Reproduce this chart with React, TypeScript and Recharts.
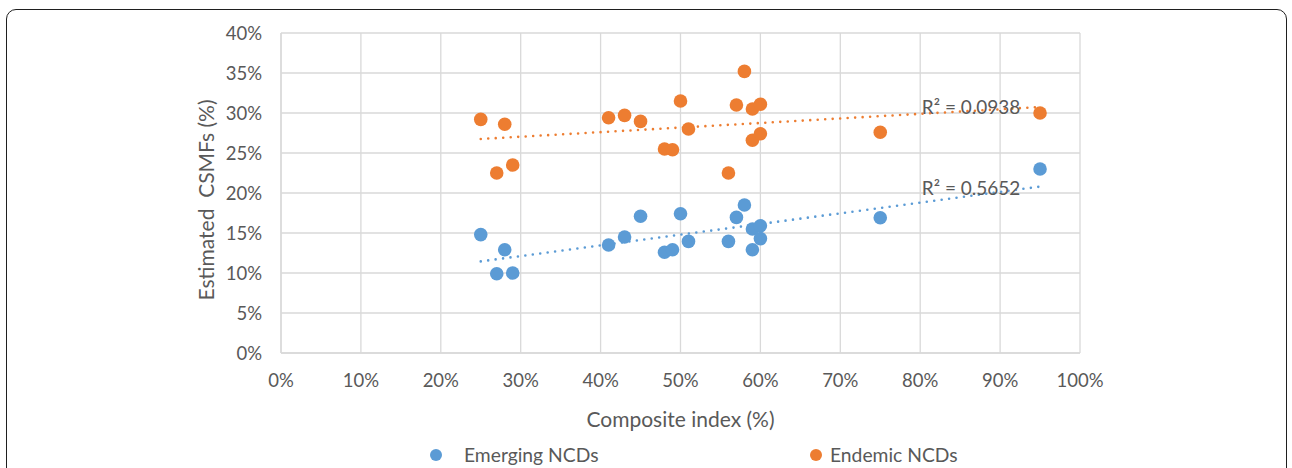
import {
  ScatterChart,
  Scatter,
  XAxis,
  YAxis,
  CartesianGrid,
  ReferenceLine,
  ReferenceDot,
} from "recharts";

// composite index (%) per country, same order in both series
const compositeIndex = [25, 27, 28, 29, 41, 43, 45, 48, 49, 50, 51, 56, 57, 58, 59, 59, 60, 60, 75, 95];
const emergingCsmf = [14.8, 9.9, 12.9, 10.0, 13.5, 14.5, 17.1, 12.6, 12.9, 17.4, 13.95, 13.95, 16.95, 18.5, 15.5, 12.9, 15.9, 14.3, 16.9, 23.0];
const endemicCsmf = [29.2, 22.5, 28.6, 23.5, 29.4, 29.7, 28.95, 25.5, 25.4, 31.5, 28.0, 22.5, 31.0, 35.2, 30.5, 26.6, 31.1, 27.4, 27.6, 30.0];

// trendline ends
const emergingTrend = [{ x: 25, y: 11.45 }, { x: 95, y: 20.8 }];
const endemicTrend = [{ x: 25, y: 26.75 }, { x: 95, y: 30.75 }];
const emergingR2 = "R² = 0.5652";
const endemicR2 = "R² = 0.0938";

const xTicks = [0, 10, 20, 30, 40, 50, 60, 70, 80, 90, 100];
const yTicks = [0, 5, 10, 15, 20, 25, 30, 35, 40];

const BLUE = "#5b9bd5";
const ORANGE = "#ed7d31";
const TEXT = "#595959";
const GRID = "#d9d9d9";
const FONT = "Lato, 'Open Sans', sans-serif";
const TICK_FS = 18.5;
const TITLE_FS = 21;
const LEGEND_FS = 19.3;
const R2_FS = 19;

const emerging = compositeIndex.map((x, i) => ({ x, y: emergingCsmf[i] }));
const endemic = compositeIndex.map((x, i) => ({ x, y: endemicCsmf[i] }));

const dot = (color: string) => (p: any) => <circle cx={p.cx} cy={p.cy} r={6.8} fill={color} />;

export default function App() {
  const tick = { fill: TEXT, fontSize: TICK_FS, fontFamily: FONT };
  const trendStyle = { strokeWidth: 2.6, strokeDasharray: "0 7.5", strokeLinecap: "round" as const };
  return (
    <div style={{ position: "absolute", left: 0, top: 0, width: 1292, height: 468, overflow: "hidden", background: "#fff", fontFamily: FONT }}>
      <div
        style={{
          position: "absolute",
          left: 6,
          top: 9,
          width: 1279,
          height: 520,
          border: "1.6px solid #1f1f1f",
          borderRadius: 10,
        }}
      />
      <ScatterChart width={1292} height={468} margin={{ top: 33, right: 212, bottom: 55, left: 201 }}>
        <CartesianGrid stroke={GRID} strokeWidth={1.3} />
        <XAxis
          type="number"
          dataKey="x"
          domain={[0, 100]}
          ticks={xTicks}
          tickFormatter={(v) => `${v}%`}
          tick={tick}
          tickLine={false}
          tickSize={6}
          tickMargin={15}
          axisLine={{ stroke: GRID, strokeWidth: 1.3 }}
          height={60}
          label={{
            content: ({ viewBox }: any) => (
              <text x={viewBox.x + viewBox.width / 2} y={viewBox.y + 74} textAnchor="middle" fill={TEXT} fontSize={TITLE_FS} fontFamily={FONT}>
                Composite index (%)
              </text>
            ),
          }}
        />
        <YAxis
          type="number"
          dataKey="y"
          domain={[0, 40]}
          ticks={yTicks}
          tickFormatter={(v) => `${v}%`}
          tick={tick}
          tickLine={false}
          tickSize={6}
          tickMargin={13}
          axisLine={{ stroke: GRID, strokeWidth: 1.3 }}
          width={80}
          label={{
            content: ({ viewBox }: any) => {
              const cx = viewBox.x + 4;
              const cy = viewBox.y + viewBox.height / 2 + 7;
              return (
                <text x={cx} y={cy} transform={`rotate(-90 ${cx} ${cy})`} textAnchor="middle" dominantBaseline="central" fill={TEXT} fontSize={TITLE_FS} fontFamily={FONT} style={{ whiteSpace: "pre" }}>
                  {"Estimated  CSMFs (%)"}
                </text>
              );
            },
          }}
        />
        <Scatter name="Emerging NCDs" data={emerging} fill={BLUE} shape={dot(BLUE)} isAnimationActive={false} />
        <Scatter name="Endemic NCDs" data={endemic} fill={ORANGE} shape={dot(ORANGE)} isAnimationActive={false} />
        <ReferenceLine segment={emergingTrend} stroke={BLUE} {...trendStyle} />
        <ReferenceLine segment={endemicTrend} stroke={ORANGE} {...trendStyle} />
        <ReferenceDot x={80.2} y={30.7} r={0} fill="none" stroke="none" label={{ value: endemicR2, position: "right", offset: 0, fill: TEXT, fontSize: R2_FS, fontFamily: FONT }} />
        <ReferenceDot x={80.2} y={20.6} r={0} fill="none" stroke="none" label={{ value: emergingR2, position: "right", offset: 0, fill: TEXT, fontSize: R2_FS, fontFamily: FONT }} />
      </ScatterChart>
      <div style={{ position: "absolute", top: 443, left: 0, width: 1292, height: 24, fontSize: LEGEND_FS, color: TEXT }}>
        <span style={{ position: "absolute", left: 430, top: 6, width: 12, height: 12, borderRadius: 6, background: BLUE }} />
        <span style={{ position: "absolute", left: 464, top: 0, lineHeight: "24px" }}>Emerging NCDs</span>
        <span style={{ position: "absolute", left: 810, top: 6, width: 12, height: 12, borderRadius: 6, background: ORANGE }} />
        <span style={{ position: "absolute", left: 830, top: 0, lineHeight: "24px" }}>Endemic NCDs</span>
      </div>
    </div>
  );
}
